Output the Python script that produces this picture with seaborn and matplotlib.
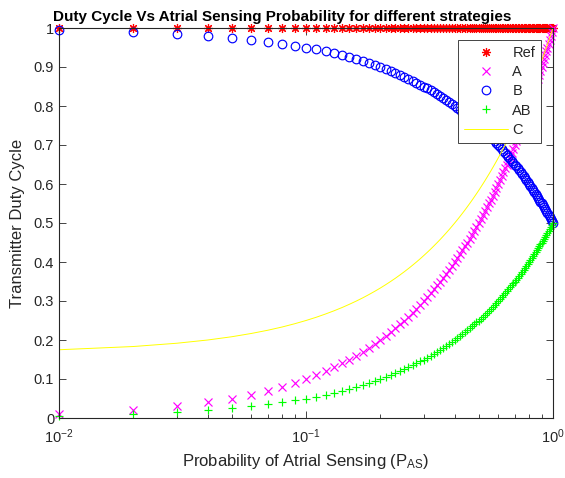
import matplotlib
matplotlib.use("Agg")
import matplotlib.pyplot as plt
import seaborn as sns
import pandas as pd
from matplotlib.ticker import FixedLocator, LogLocator, NullFormatter

# ---- data ----
p_as = [0.01, 0.02, 0.03, 0.04, 0.05, 0.06, 0.07, 0.08, 0.09, 0.10,
        0.11, 0.12, 0.13, 0.14, 0.15, 0.16, 0.17, 0.18, 0.19, 0.20,
        0.21, 0.22, 0.23, 0.24, 0.25, 0.26, 0.27, 0.28, 0.29, 0.30,
        0.31, 0.32, 0.33, 0.34, 0.35, 0.36, 0.37, 0.38, 0.39, 0.40,
        0.41, 0.42, 0.43, 0.44, 0.45, 0.46, 0.47, 0.48, 0.49, 0.50,
        0.51, 0.52, 0.53, 0.54, 0.55, 0.56, 0.57, 0.58, 0.59, 0.60,
        0.61, 0.62, 0.63, 0.64, 0.65, 0.66, 0.67, 0.68, 0.69, 0.70,
        0.71, 0.72, 0.73, 0.74, 0.75, 0.76, 0.77, 0.78, 0.79, 0.80,
        0.81, 0.82, 0.83, 0.84, 0.85, 0.86, 0.87, 0.88, 0.89, 0.90,
        0.91, 0.92, 0.93, 0.94, 0.95, 0.96, 0.97, 0.98, 0.99, 1.00]

ref = [1.0] * 100

dc_a = [0.01, 0.02, 0.03, 0.04, 0.05, 0.06, 0.07, 0.08, 0.09, 0.10,
        0.11, 0.12, 0.13, 0.14, 0.15, 0.16, 0.17, 0.18, 0.19, 0.20,
        0.21, 0.22, 0.23, 0.24, 0.25, 0.26, 0.27, 0.28, 0.29, 0.30,
        0.31, 0.32, 0.33, 0.34, 0.35, 0.36, 0.37, 0.38, 0.39, 0.40,
        0.41, 0.42, 0.43, 0.44, 0.45, 0.46, 0.47, 0.48, 0.49, 0.50,
        0.51, 0.52, 0.53, 0.54, 0.55, 0.56, 0.57, 0.58, 0.59, 0.60,
        0.61, 0.62, 0.63, 0.64, 0.65, 0.66, 0.67, 0.68, 0.69, 0.70,
        0.71, 0.72, 0.73, 0.74, 0.75, 0.76, 0.77, 0.78, 0.79, 0.80,
        0.81, 0.82, 0.83, 0.84, 0.85, 0.86, 0.87, 0.88, 0.89, 0.90,
        0.91, 0.92, 0.93, 0.94, 0.95, 0.96, 0.97, 0.98, 0.99, 1.00]

dc_b = [0.995, 0.990, 0.985, 0.980, 0.975, 0.970, 0.965, 0.960, 0.955, 0.950,
        0.945, 0.940, 0.935, 0.930, 0.925, 0.920, 0.915, 0.910, 0.905, 0.900,
        0.895, 0.890, 0.885, 0.880, 0.875, 0.870, 0.865, 0.860, 0.855, 0.850,
        0.845, 0.840, 0.835, 0.830, 0.825, 0.820, 0.815, 0.810, 0.805, 0.800,
        0.795, 0.790, 0.785, 0.780, 0.775, 0.770, 0.765, 0.760, 0.755, 0.750,
        0.745, 0.740, 0.735, 0.730, 0.725, 0.720, 0.715, 0.710, 0.705, 0.700,
        0.695, 0.690, 0.685, 0.680, 0.675, 0.670, 0.665, 0.660, 0.655, 0.650,
        0.645, 0.640, 0.635, 0.630, 0.625, 0.620, 0.615, 0.610, 0.605, 0.600,
        0.595, 0.590, 0.585, 0.580, 0.575, 0.570, 0.565, 0.560, 0.555, 0.550,
        0.545, 0.540, 0.535, 0.530, 0.525, 0.520, 0.515, 0.510, 0.505, 0.500]

dc_ab = [0.005, 0.010, 0.015, 0.020, 0.025, 0.030, 0.035, 0.040, 0.045, 0.050,
         0.055, 0.060, 0.065, 0.070, 0.075, 0.080, 0.085, 0.090, 0.095, 0.100,
         0.105, 0.110, 0.115, 0.120, 0.125, 0.130, 0.135, 0.140, 0.145, 0.150,
         0.155, 0.160, 0.165, 0.170, 0.175, 0.180, 0.185, 0.190, 0.195, 0.200,
         0.205, 0.210, 0.215, 0.220, 0.225, 0.230, 0.235, 0.240, 0.245, 0.250,
         0.255, 0.260, 0.265, 0.270, 0.275, 0.280, 0.285, 0.290, 0.295, 0.300,
         0.305, 0.310, 0.315, 0.320, 0.325, 0.330, 0.335, 0.340, 0.345, 0.350,
         0.355, 0.360, 0.365, 0.370, 0.375, 0.380, 0.385, 0.390, 0.395, 0.400,
         0.405, 0.410, 0.415, 0.420, 0.425, 0.430, 0.435, 0.440, 0.445, 0.450,
         0.455, 0.460, 0.465, 0.470, 0.475, 0.480, 0.485, 0.490, 0.495, 0.500]

dc_c = [0.1750, 0.1833, 0.1917, 0.2000, 0.2083, 0.2167, 0.2250, 0.2333, 0.2417, 0.2500,
        0.2583, 0.2667, 0.2750, 0.2833, 0.2917, 0.3000, 0.3083, 0.3167, 0.3250, 0.3333,
        0.3417, 0.3500, 0.3583, 0.3667, 0.3750, 0.3833, 0.3917, 0.4000, 0.4083, 0.4167,
        0.4250, 0.4333, 0.4417, 0.4500, 0.4583, 0.4667, 0.4750, 0.4833, 0.4917, 0.5000,
        0.5083, 0.5167, 0.5250, 0.5333, 0.5417, 0.5500, 0.5583, 0.5667, 0.5750, 0.5833,
        0.5917, 0.6000, 0.6083, 0.6167, 0.6250, 0.6333, 0.6417, 0.6500, 0.6583, 0.6667,
        0.6750, 0.6833, 0.6917, 0.7000, 0.7083, 0.7167, 0.7250, 0.7333, 0.7417, 0.7500,
        0.7583, 0.7667, 0.7750, 0.7833, 0.7917, 0.8000, 0.8083, 0.8167, 0.8250, 0.8333,
        0.8417, 0.8500, 0.8583, 0.8667, 0.8750, 0.8833, 0.8917, 0.9000, 0.9083, 0.9167,
        0.9250, 0.9333, 0.9417, 0.9500, 0.9583, 0.9667, 0.9750, 0.9833, 0.9917, 1.0000]

series_labels = ["Ref", "A", "B", "AB", "C"]
y_ticks = [0, 0.1, 0.2, 0.3, 0.4, 0.5, 0.6, 0.7, 0.8, 0.9, 1]
y_tick_labels = ["0", "0.1", "0.2", "0.3", "0.4", "0.5", "0.6", "0.7", "0.8", "0.9", "1"]

df = pd.DataFrame({"p": p_as, "Ref": ref, "A": dc_a, "B": dc_b, "AB": dc_ab, "C": dc_c})

# ---- style ----
sns.set_style("white")
plt.rcParams["font.family"] = ["Liberation Sans", "DejaVu Sans"]
plt.rcParams["mathtext.default"] = "regular"
TXT = "#262626"

fig = plt.figure(figsize=(5.65, 4.78), dpi=100)
ax = fig.add_axes([59 / 565, 1 - 418 / 478, 494 / 565, 390 / 478])

styles = [
    ("Ref", (8, 2, 0), "#ff0000", 6.5, False),
    ("A", "x", "#ff00ff", 5.5, False),
    ("B", "o", "#0000ff", 6.2, True),
    ("AB", "+", "#00ff00", 6.0, False),
]
for (col, mk, c, ms, hollow), lab in zip(styles, series_labels[:4]):
    sns.lineplot(data=df, x="p", y=col, marker=mk, color=c, linestyle="",
                 sort=False, estimator=None, label=lab, ax=ax)
    ln = ax.lines[-1]
    ln.set_linestyle("")
    ln.set_marker(mk)
    ln.set_markersize(ms)
    ln.set_markeredgewidth(0.85)
    ln.set_markeredgecolor(c)
    ln.set_markerfacecolor("none" if hollow else c)
    ln.set_clip_on(False)
    ln.set_snap(False)

sns.lineplot(data=df, x="p", y="C", color="#ffff00", linewidth=0.7,
             label=series_labels[4], sort=False, estimator=None, ax=ax)

ax.set_xscale("log")
ax.set_xlim(0.01, 1)
ax.set_ylim(0, 1)
ax.yaxis.set_major_locator(FixedLocator(y_ticks))
ax.set_yticklabels(y_tick_labels)
ax.xaxis.set_minor_locator(LogLocator(base=10, subs=range(2, 10)))
ax.xaxis.set_minor_formatter(NullFormatter())

for s in ax.spines.values():
    s.set_color(TXT)
    s.set_linewidth(0.8)
    s.set_visible(True)
ax.tick_params(which="both", direction="in", top=True, right=True, bottom=True, left=True,
               colors=TXT, labelsize=10.5, width=0.6)
ax.tick_params(which="major", length=5)
ax.tick_params(which="minor", length=2.8)
ax.tick_params(axis="x", pad=7)

ax.set_xlabel("Probability of Atrial Sensing (P$_{AS}$)", fontsize=12, color=TXT, labelpad=4)
ax.set_ylabel("Transmitter Duty Cycle", fontsize=12, color=TXT, labelpad=6)
fig.text(282 / 565, 1 - 17 / 478,
         "Duty Cycle Vs Atrial Sensing Probability for different strategies",
         fontsize=11, fontweight="bold", color="black", ha="center", va="center")

handles, labels = ax.get_legend_handles_labels()
leg = ax.legend(handles, labels, loc="upper right", bbox_to_anchor=(541 / 565, 1 - 40 / 478),
                bbox_transform=fig.transFigure, fontsize=10.5, frameon=True, fancybox=False,
                framealpha=1, edgecolor=TXT, borderpad=0.4, labelspacing=0.36,
                handlelength=3.0, handletextpad=0.3, borderaxespad=0)
leg.get_frame().set_linewidth(0.6)
for t in leg.get_texts():
    t.set_color(TXT)

fig.savefig("out.png", dpi=100)
